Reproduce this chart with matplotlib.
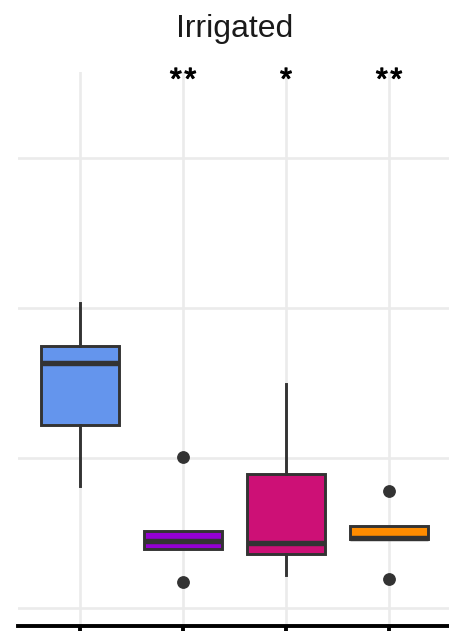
import matplotlib
matplotlib.use("Agg")
import matplotlib.pyplot as plt
import matplotlib.patheffects as pe

# Treatment groups within the irrigated panel
categories = ["Control", "Treatment A", "Treatment B", "Treatment C"]
fill_colors = ["#6495ED", "#9400D3", "#CD1076", "#FF8C00"]

# Five-number summaries per group
whisker_low = [8.15, 3.93, 2.20, 4.60]
q1_values = [12.18, 3.93, 3.63, 4.60]
medians = [16.31, 4.47, 4.31, 4.65]
q3_values = [17.49, 5.13, 8.90, 5.47]
whisker_high = [20.35, 5.13, 14.93, 5.47]
outliers = [[], [10.09, 1.75], [], [7.82, 1.91]]

# Significance labels versus control
signif = ["", "**", "*", "**"]
signif_y = 34.6

y_gridlines = [0, 10, 20, 30]

plt.rcParams["font.family"] = ["Liberation Sans", "DejaVu Sans"]

fig = plt.figure(figsize=(4.49, 6.31), dpi=100)
W, H = 449, 631
left_px, right_px = 18.2, 450.8
top_px, bottom_px = 72, 626
ax = fig.add_axes([left_px / W, 1 - bottom_px / H,
                   (right_px - left_px) / W, (bottom_px - top_px) / H])

positions = list(range(1, len(categories) + 1))
stats = []
for i, name in enumerate(categories):
    stats.append(dict(label=name, whislo=whisker_low[i], q1=q1_values[i],
                      med=medians[i], q3=q3_values[i], whishi=whisker_high[i],
                      fliers=outliers[i]))

edge = "#333333"
bp = ax.bxp(stats, positions=positions, widths=0.75, patch_artist=True,
            showcaps=False,
            boxprops=dict(edgecolor=edge, linewidth=2.1),
            whiskerprops=dict(color=edge, linewidth=2.1),
            medianprops=dict(color=edge, linewidth=3.9, solid_capstyle="butt"),
            flierprops=dict(marker="o", markerfacecolor=edge,
                            markeredgecolor=edge, markersize=8.2),
            zorder=3)
for patch, c in zip(bp["boxes"], fill_colors):
    patch.set_facecolor(c)
    patch.set_zorder(3)

for x, lab in zip(positions, signif):
    if lab:
        ax.text(x, signif_y, "\u200a".join(lab), ha="center", va="baseline",
                fontsize=22, color="black", clip_on=False, zorder=5,
                path_effects=[pe.withStroke(linewidth=0.8, foreground="black")])

ax.set_xlim(0.4, 4.6)
ax.set_ylim(-1.2, 35.73)

ax.set_yticks(y_gridlines)
ax.set_xticks(positions)
ax.set_xticklabels([""] * len(categories))
ax.set_yticklabels([])
ax.grid(True, color="#EBEBEB", linewidth=1.9, zorder=0)
ax.set_axisbelow(True)
ax.tick_params(axis="y", length=0)
ax.tick_params(axis="x", direction="out", length=6, width=2.8, color="black")

for side in ["left", "right", "top"]:
    ax.spines[side].set_visible(False)
ax.spines["bottom"].set_linewidth(2.8)
ax.spines["bottom"].set_color("black")

fig.text((left_px + right_px) / 2 / W, 1 - 37 / H, "Irrigated",
         ha="center", va="baseline", fontsize=23, color="#1A1A1A")

fig.savefig("out.png", dpi=100, facecolor="white")
